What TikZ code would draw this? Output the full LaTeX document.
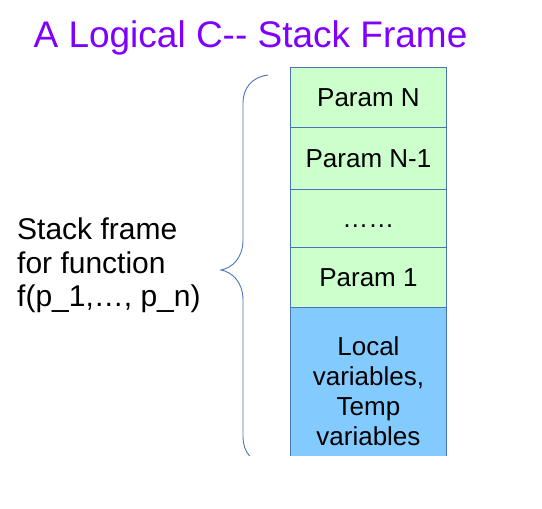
\documentclass[tikz,border=0pt]{standalone}
\usepackage{fontspec}
\setmainfont{Liberation Sans}[Ligatures=TeXOff]
\definecolor{framegreen}{HTML}{CCFFCC}
\definecolor{frameblue}{HTML}{83CAFF}
\definecolor{edgeblue}{HTML}{4A74B8}
\definecolor{titleviolet}{HTML}{8000FF}
\begin{document}
\begin{tikzpicture}[x=1pt,y=-1pt,
  slot/.style={draw=edgeblue,line width=0.9pt,fill=framegreen,minimum width=156pt,
    inner sep=0pt,anchor=north west,font=\fontsize{26}{30}\selectfont},
  bracepath/.style={draw=edgeblue,line width=0.9pt}]
\useasboundingbox (0,0) rectangle (542,509);
% title
\node[text=titleviolet,font=\fontsize{37}{44}\selectfont,anchor=base] (title) at (250.5,47) {A Logical C-- Stack Frame};
% parameter slots
\node[slot,minimum height=60pt] (pN) at (290,67) {Param N};
\node[slot,minimum height=62pt] (pN1) at (290,127) {Param N-1};
\node[slot,minimum height=58pt] (pdots) at (290,189) {\vphantom{Param}……};
\node[slot,minimum height=60pt] (p1) at (290,247) {Param 1};
% locals area, cut off at the lower edge
\begin{scope}
  \clip (0,0) rectangle (542,455);
  \node[slot,fill=frameblue,minimum height=168pt,align=center] (locals) at (290,307)
    {Local\\variables,\\Temp\\variables};
  % curly brace spanning the frame
  \draw[bracepath] (268,75) .. controls (252,77) and (243,88) .. (243,103)
    -- (243,240) .. controls (243,258) and (232,268) .. (221,270)
    .. controls (232,272) and (243,282) .. (243,300)
    -- (243,437) .. controls (243,452) and (252,463) .. (268,465);
\end{scope}
% description on the left
\node[anchor=north west,align=left,inner sep=0pt,
  font=\fontsize{30}{33.5}\selectfont] (desc) at (17,218)
  {Stack frame\\for function\\f(p\_1,…, p\_n)};
\end{tikzpicture}
\end{document}
